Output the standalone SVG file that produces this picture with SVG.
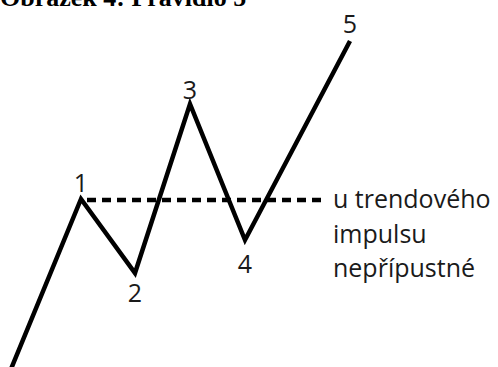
<svg xmlns="http://www.w3.org/2000/svg" width="498" height="367" viewBox="0 0 498 367">
<style>
.title{font-family:"Liberation Serif","Times New Roman",serif;font-weight:bold;font-size:26px;fill:#000}
.num{font-family:"Open Sans","Noto Sans",sans-serif;font-size:25px;fill:#1a1a1a;text-anchor:middle}
.note{font-family:"Open Sans","Noto Sans",sans-serif;font-size:25px;fill:#1a1a1a}
.wave{fill:none;stroke:#000;stroke-width:4.5;stroke-linejoin:miter;stroke-linecap:butt}
.dash{fill:none;stroke:#000;stroke-width:4.5;stroke-dasharray:9 6}
</style>
<rect width="498" height="367" fill="#fff"/>
<text class="title" x="0" y="6">Obrázek 4: Pravidlo 5</text>
<g id="connectors">
<polyline class="wave" points="11,369 81,199 135,273 190,104 245,240 350,41"/>
<line class="dash" x1="87" y1="200" x2="322" y2="200"/>
</g>
<g id="p1"><text class="num" x="81" y="192">1</text></g>
<g id="p2"><text class="num" x="135" y="302">2</text></g>
<g id="p3"><text class="num" x="190" y="99">3</text></g>
<g id="p4"><text class="num" x="245" y="273">4</text></g>
<g id="p5"><text class="num" x="350" y="33">5</text></g>
<g id="note">
<text class="note" x="333" y="208">u trendového</text>
<text class="note" x="333" y="243">impulsu</text>
<text class="note" x="333" y="277">nepřípustné</text>
</g>
</svg>
